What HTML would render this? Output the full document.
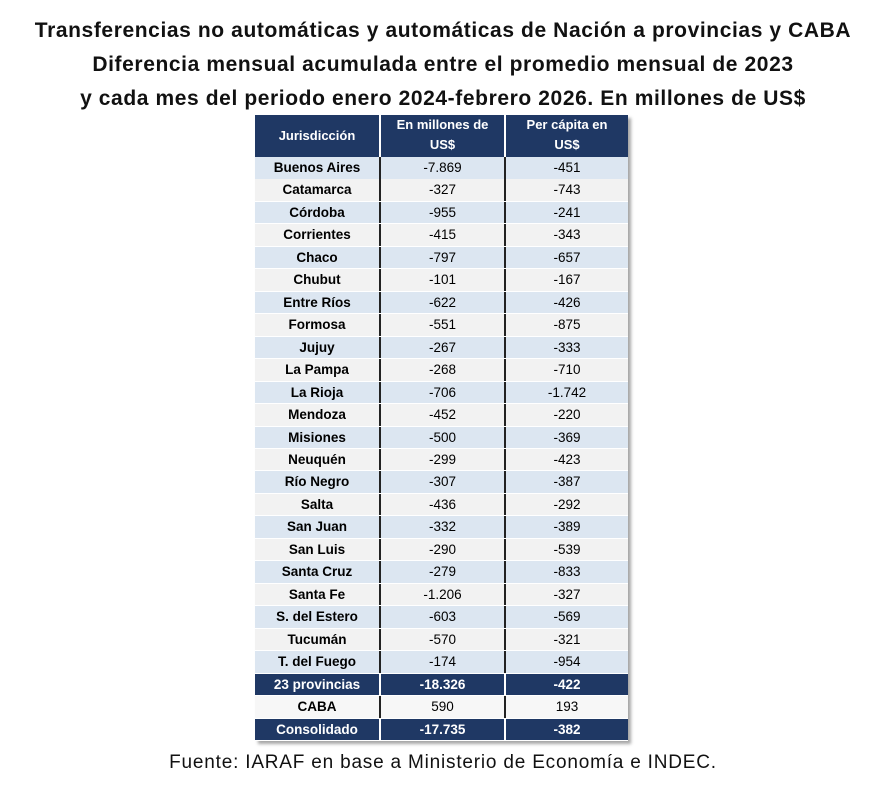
<!DOCTYPE html>
<html><head><meta charset="utf-8"><style>
body{margin:0;background:#fff;width:886px;height:805px;position:relative;font-family:"Liberation Sans",sans-serif;overflow:hidden}
.t{position:absolute;left:0;width:886px;text-align:center;font-weight:bold;font-size:21px;letter-spacing:0.6px;color:#111;white-space:nowrap}
#tb{position:absolute;left:255px;top:115px;width:373px;height:626px;box-shadow:3px 3px 3px rgba(0,0,0,0.35);font-size:13.5px}
.r{position:absolute;left:0;width:373px;height:21.5px;line-height:21.5px}
.c{position:absolute;top:0;height:100%;text-align:center}
.c1{left:0;width:124px;font-weight:bold}
.c2{left:124px;width:125px;border-left:2px solid #222;box-sizing:border-box}
.c3{left:249px;width:124px;border-left:2px solid #222;box-sizing:border-box}
.a{background:#dce6f1}.b{background:#f2f2f2}.w{background:#f7f7f7}
.d{background:#1f3864;color:#fff;font-weight:bold}
.d .c2,.d .c3{border-left-color:#fff}
.h{top:0;height:42px;line-height:20px;font-size:13px}
.h .c1{line-height:42px}
</style></head><body>
<div class="t" style="top:19px">Transferencias no automáticas y automáticas de Nación a provincias y CABA</div>
<div class="t" style="top:53px">Diferencia mensual acumulada entre el promedio mensual de 2023</div>
<div class="t" style="top:87px">y cada mes del periodo enero 2024-febrero 2026. En millones de US$</div>
<div id="tb">
<div class="r d h"><div class="c c1">Jurisdicción</div><div class="c c2">En millones de<br>US$</div><div class="c c3">Per cápita en<br>US$</div></div>
</div>
<div style="position:absolute;left:0;width:886px;top:752px;text-align:center;font-size:19px;letter-spacing:0.8px;color:#111">Fuente: IARAF en base a Ministerio de Economía e INDEC.</div>
<script>
var rows=[["Buenos Aires","-7.869","-451"],["Catamarca","-327","-743"],["Córdoba","-955","-241"],["Corrientes","-415","-343"],["Chaco","-797","-657"],["Chubut","-101","-167"],["Entre Ríos","-622","-426"],["Formosa","-551","-875"],["Jujuy","-267","-333"],["La Pampa","-268","-710"],["La Rioja","-706","-1.742"],["Mendoza","-452","-220"],["Misiones","-500","-369"],["Neuquén","-299","-423"],["Río Negro","-307","-387"],["Salta","-436","-292"],["San Juan","-332","-389"],["San Luis","-290","-539"],["Santa Cruz","-279","-833"],["Santa Fe","-1.206","-327"],["S. del Estero","-603","-569"],["Tucumán","-570","-321"],["T. del Fuego","-174","-954"],["23 provincias","-18.326","-422"],["CABA","590","193"],["Consolidado","-17.735","-382"]];
var tb=document.getElementById('tb'),h='';
rows.forEach(function(r,i){var cl=i<23?(i%2?'b':'a'):(i==24?'w':'d');
h+='<div class="r '+cl+'" style="top:'+(42+i*22.46).toFixed(2)+'px"><div class="c c1">'+r[0]+'</div><div class="c c2">'+r[1]+'</div><div class="c c3">'+r[2]+'</div></div>';});
tb.insertAdjacentHTML('beforeend',h);
</script>
</body></html>
